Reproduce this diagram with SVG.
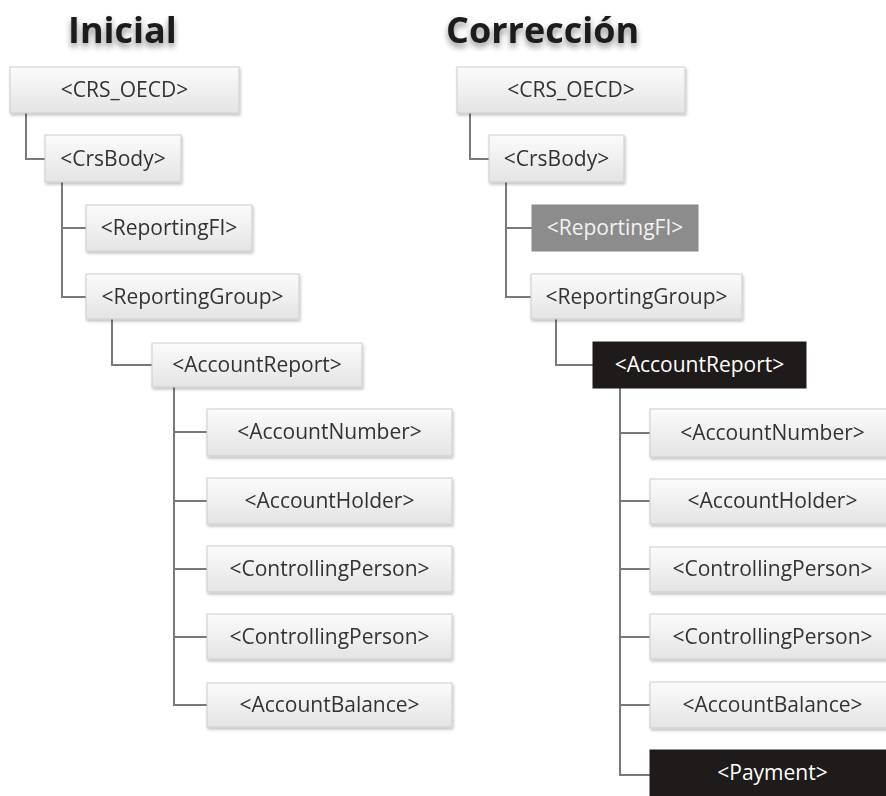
<svg xmlns="http://www.w3.org/2000/svg" width="886" height="796" viewBox="0 0 886 796">
<defs>
<linearGradient id="boxg" x1="0" y1="0" x2="0" y2="1">
<stop offset="0" stop-color="#fbfbfb"/>
<stop offset="1" stop-color="#e4e4e4"/>
</linearGradient>
<filter id="tsh" x="-20%" y="-40%" width="140%" height="200%">
<feGaussianBlur in="SourceAlpha" stdDeviation="3"/>
<feOffset dx="0" dy="4" result="b"/>
<feComponentTransfer><feFuncA type="linear" slope="0.45"/></feComponentTransfer>
<feMerge><feMergeNode/><feMergeNode in="SourceGraphic"/></feMerge>
</filter>
<filter id="bsh" x="-10%" y="-20%" width="120%" height="150%">
<feGaussianBlur in="SourceAlpha" stdDeviation="1.5"/>
<feOffset dx="1" dy="2"/>
<feComponentTransfer><feFuncA type="linear" slope="0.25"/></feComponentTransfer>
<feMerge><feMergeNode/><feMergeNode in="SourceGraphic"/></feMerge>
</filter>
</defs>
<style>
.title{font-family:"Open Sans",sans-serif;font-weight:700;font-size:36px;fill:#1a1a1a}
.box rect{fill:url(#boxg);stroke:#cdcdcd;stroke-width:1}
.box text,.gray text,.dark text{font-family:"Open Sans",sans-serif;font-size:21px;text-anchor:middle;fill:#333}
.gray rect{fill:#8c8c8c;stroke:#8c8c8c}
.gray text{fill:#f2f2f2}
.dark rect{fill:#1f1b1b;stroke:#1f1b1b}
.dark text{fill:#ffffff}
.conn path{fill:none;stroke:#7a7a7a;stroke-width:2}
</style>
<rect width="886" height="796" fill="#ffffff"/>
<text class="title" x="68" y="43" filter="url(#tsh)">Inicial</text>
<text class="title" x="446" y="43" filter="url(#tsh)">Corrección</text>
<g class="conn" id="connectors">
<path d="M26,113 V159 H45"/>
<path d="M62,182 V297 H86 M62,228 H86"/>
<path d="M112,319 V365 H152"/>
<path d="M174,387 V705 H207 M174,432 H207 M174,501 H207 M174,569 H207 M174,637 H207"/>
<path d="M470,113 V159 H489"/>
<path d="M506,182 V297 H531 M506,228 H532"/>
<path d="M556,319 V365 H593"/>
<path d="M620,388 V775 H650 M620,433 H650 M620,501 H650 M620,569 H650 M620,637 H650 M620,705 H650"/>
</g>
<g id="l-crs" class="box" filter="url(#bsh)"><rect x="10" y="67" width="229" height="46"/><text x="124.5" y="97">&lt;CRS_OECD&gt;</text></g>
<g id="l-body" class="box" filter="url(#bsh)"><rect x="45" y="135" width="136" height="47"/><text x="113" y="166">&lt;CrsBody&gt;</text></g>
<g id="l-rfi" class="box" filter="url(#bsh)"><rect x="86" y="205" width="166" height="46"/><text x="169" y="235">&lt;ReportingFI&gt;</text></g>
<g id="l-rg" class="box" filter="url(#bsh)"><rect x="86" y="274" width="213" height="45"/><text x="192.5" y="304">&lt;ReportingGroup&gt;</text></g>
<g id="l-ar" class="box" filter="url(#bsh)"><rect x="152" y="343" width="210" height="44"/><text x="257" y="372">&lt;AccountReport&gt;</text></g>
<g id="l-an" class="box" filter="url(#bsh)"><rect x="207" y="409" width="245" height="47"/><text x="329.5" y="439">&lt;AccountNumber&gt;</text></g>
<g id="l-ah" class="box" filter="url(#bsh)"><rect x="207" y="478" width="245" height="46"/><text x="329.5" y="508">&lt;AccountHolder&gt;</text></g>
<g id="l-cp1" class="box" filter="url(#bsh)"><rect x="207" y="546" width="245" height="46"/><text x="329.5" y="576">&lt;ControllingPerson&gt;</text></g>
<g id="l-cp2" class="box" filter="url(#bsh)"><rect x="207" y="614" width="245" height="45"/><text x="329.5" y="644">&lt;ControllingPerson&gt;</text></g>
<g id="l-ab" class="box" filter="url(#bsh)"><rect x="207" y="683" width="245" height="44"/><text x="329.5" y="712">&lt;AccountBalance&gt;</text></g>
<g id="r-crs" class="box" filter="url(#bsh)"><rect x="457" y="67" width="228" height="46"/><text x="571" y="97">&lt;CRS_OECD&gt;</text></g>
<g id="r-body" class="box" filter="url(#bsh)"><rect x="489" y="135" width="135" height="47"/><text x="556.5" y="166">&lt;CrsBody&gt;</text></g>
<g id="r-rfi" class="gray"><rect x="532" y="205" width="166" height="46"/><text x="615" y="235">&lt;ReportingFI&gt;</text></g>
<g id="r-rg" class="box" filter="url(#bsh)"><rect x="531" y="274" width="211" height="45"/><text x="636.5" y="304">&lt;ReportingGroup&gt;</text></g>
<g id="r-ar" class="dark"><rect x="593" y="342" width="213" height="46"/><text x="699.5" y="372">&lt;AccountReport&gt;</text></g>
<g id="r-an" class="box" filter="url(#bsh)"><rect x="650" y="409" width="245" height="48"/><text x="772.5" y="440">&lt;AccountNumber&gt;</text></g>
<g id="r-ah" class="box" filter="url(#bsh)"><rect x="650" y="479" width="245" height="45"/><text x="772.5" y="508">&lt;AccountHolder&gt;</text></g>
<g id="r-cp1" class="box" filter="url(#bsh)"><rect x="650" y="547" width="245" height="45"/><text x="772.5" y="576">&lt;ControllingPerson&gt;</text></g>
<g id="r-cp2" class="box" filter="url(#bsh)"><rect x="650" y="614" width="245" height="45"/><text x="772.5" y="644">&lt;ControllingPerson&gt;</text></g>
<g id="r-ab" class="box" filter="url(#bsh)"><rect x="650" y="682" width="245" height="46"/><text x="772.5" y="712">&lt;AccountBalance&gt;</text></g>
<g id="r-pay" class="dark"><rect x="650" y="750" width="245" height="48"/><text x="772.5" y="780">&lt;Payment&gt;</text></g>
</svg>
